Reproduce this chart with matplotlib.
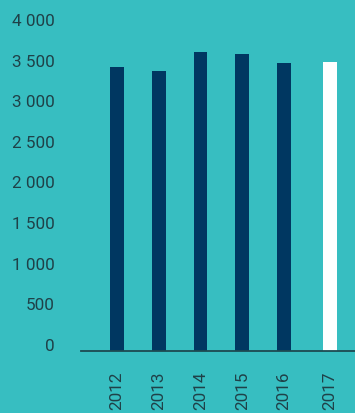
import matplotlib
matplotlib.use("Agg")
import matplotlib.pyplot as plt
import numpy as np

years = ["2012", "2013", "2014", "2015", "2016", "2017"]
values = [3500, 3440, 3685, 3650, 3545, 3560]
y_ticks = [0, 500, 1000, 1500, 2000, 2500, 3000, 3500, 4000]
y_tick_labels = ["0", "500", "1 000", "1 500", "2 000", "2 500", "3 000", "3 500", "4 000"]

BG = "#37bec1"
NAVY = "#003761"
TEXT = "#1f4148"

W, H = 355, 413
fig = plt.figure(figsize=(W / 100, H / 100), dpi=100, facecolor=BG)
left, right = 80.7, 355.0
top, bottom = 26.0, 350.7
ax = fig.add_axes([left / W, (H - bottom) / H, (right - left) / W, (bottom - top) / H])
ax.set_facecolor(BG)

# the forecast year sits a little apart from the actual years
x = np.arange(len(years), dtype=float)
x[-1] += 0.1
colors = [NAVY] * (len(years) - 1) + ["white"]
ax.bar(x, values, width=0.335, color=colors, edgecolor="none", zorder=2)

ax.set_xlim(-0.869, 5.70)
ax.set_ylim(0, 4000)

for s in ["top", "right", "left"]:
    ax.spines[s].set_visible(False)
ax.spines["bottom"].set_color("#1d4a52")
ax.spines["bottom"].set_linewidth(1.3)
ax.spines["bottom"].set_zorder(3)

font = dict(family="Roboto", size=12.3, color=TEXT)
ax.set_yticks(y_ticks)
ax.set_yticklabels(y_tick_labels, **font)
for lab in ax.get_yticklabels():
    lab.set_verticalalignment("baseline")
ax.tick_params(axis="y", length=0, pad=19)

ax.set_xticks(x)
ax.set_xticklabels(years, rotation=90, **font)
ax.tick_params(axis="x", length=0, pad=15)

fig.savefig("out.png", dpi=100, facecolor=BG)
